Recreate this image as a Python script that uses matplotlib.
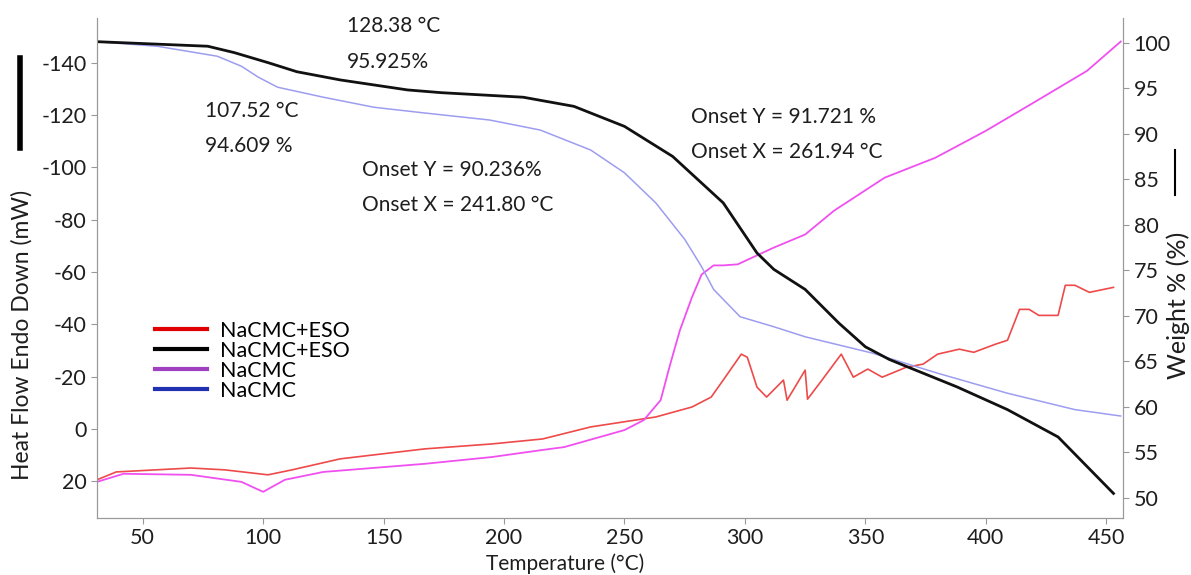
import numpy as np
import matplotlib.pyplot as plt
from matplotlib.lines import Line2D

plt.rcParams['font.family'] = ['Lato', 'DejaVu Sans']
plt.rcParams['axes.unicode_minus'] = False

# TGA, NaCMC+ESO (чёрная, правая ось)
t_black = [31, 77, 88, 102, 114, 132, 160, 174, 208, 229, 250, 270, 291, 305, 312,
           325, 339, 350, 360, 374, 388, 409, 430, 453]
w_black = [100.1, 99.6, 98.9, 97.8, 96.8, 95.9, 94.8, 94.5, 94.0, 93.0, 90.8, 87.5, 82.4, 76.9, 75.1,
           72.9, 69.2, 66.6, 65.2, 63.7, 62.2, 59.7, 56.7, 50.5]

# TGA, NaCMC (голубая, правая ось)
t_blue = [31, 56, 81, 91, 98, 106, 125, 146, 166, 194, 215, 236, 250, 263, 275, 282,
          287, 298, 312, 325, 353, 380, 409, 437, 456]
w_blue = [100.1, 99.6, 98.5, 97.4, 96.2, 95.1, 94.0, 92.9, 92.3, 91.5, 90.4, 88.2, 85.7, 82.4, 78.4, 75.4,
          72.9, 69.9, 68.8, 67.7, 65.9, 63.7, 61.5, 59.7, 59.0]

# DSC, NaCMC (розовая, левая ось)
t_mag = [31, 42, 70, 91, 100, 109, 125, 167, 195, 216, 225, 250, 258, 265, 269, 273,
         278, 282, 287, 291, 297, 312, 325, 337, 358, 379, 400, 421, 442, 456]
h_mag = [20.2, 17.1, 17.5, 20.2, 24.0, 19.4, 16.4, 13.3, 10.7, 8.0, 6.9, 0.4, -3.4, -11.0, -24.8, -37.7,
         -50.3, -59.0, -62.5, -62.5, -62.9, -69.3, -74.3, -83.4, -96.0, -103.6, -113.9, -125.3, -136.8, -148.0]

# DSC, NaCMC+ESO (красная, левая ось)
t_red = [31, 39, 70, 84, 102, 112, 132, 167, 195, 216, 236, 263, 278, 286, 291, 298.5,
         301, 305, 309, 316, 317.5, 325, 326, 332, 340, 345, 351, 357, 367, 374,
         380, 389, 395, 404, 409, 414, 418, 422, 430, 433, 437, 443, 453]
h_red = [19.4, 16.4, 14.9, 15.6, 17.5, 15.6, 11.4, 7.6, 5.7, 3.8, -0.8, -4.6, -8.4, -12.2, -18.7, -28.6,
         -27.4, -16.0, -12.2, -18.7, -11.0, -22.5, -11.4, -18.7, -28.6, -19.8, -22.9, -19.8, -23.6, -24.8,
         -28.6, -30.5, -29.3, -32.4, -33.9, -45.7, -45.7, -43.4, -43.4, -54.9, -54.9, -52.2, -54.1]

legend_labels = ['NaCMC+ESO', 'NaCMC+ESO', 'NaCMC', 'NaCMC']
legend_colors = ['#e00000', '#000000', '#a040c0', '#2030b0']

fig = plt.figure(figsize=(11.91, 5.75), dpi=100)
ax = fig.add_axes([0.0814, 0.0991, 0.8616, 0.8696])
ax2 = ax.twinx()

ax.plot(t_red, h_red, color='#ee4a4a', lw=1.2)
ax.plot(t_mag, h_mag, color='#f050f0', lw=1.3)
ax2.plot(t_blue, w_blue, color='#9d9df0', lw=1.1)
ax2.plot(t_black, w_black, color='#111111', lw=2.0)

ax.set_xlim(31, 457)
ax.set_ylim(34, -157)
ax2.set_ylim(47.8, 102.7)
ax.set_xticks(np.arange(50, 451, 50))
ax.set_yticks(np.arange(-140, 21, 20))
ax2.set_yticks(np.arange(50, 101, 5))

for a in (ax, ax2):
    a.spines['top'].set_visible(False)
    for s in ('left', 'right', 'bottom'):
        a.spines[s].set_color('#999999')
    a.tick_params(colors='#999999', labelcolor='#1e1e1e', labelsize=15.5, length=4, direction='out')

# подписи осей
fig.text(565 / 1191, 1 - 564 / 575, 'Temperature (°C)', ha='center', va='center', fontsize=15, color='#1e1e1e')
fig.text(22 / 1191, 1 - 335 / 575, 'Heat Flow Endo Down (mW)', ha='center', va='center',
         rotation=90, fontsize=16.5, color='#1e1e1e')
fig.text(1178 / 1191, 1 - 305 / 575, 'Weight % (%)', ha='center', va='center',
         rotation=90, fontsize=18, color='#1e1e1e')
fig.add_artist(Line2D([20 / 1191, 20 / 1191], [1 - 58 / 575, 1 - 148 / 575], color='black', lw=4))
fig.add_artist(Line2D([1175 / 1191, 1175 / 1191], [1 - 150 / 575, 1 - 195 / 575], color='black', lw=1.5))

# аннотации
notes = [(134.9, 101.8, '128.38 °C'), (134.9, 97.9, '95.925%'),
         (75.9, 92.5, '107.52 °C'), (75.9, 88.6, '94.609 %'),
         (141.2, 86.0, 'Onset Y = 90.236%'), (141.2, 82.2, 'Onset X = 241.80 °C'),
         (277.5, 91.8, 'Onset Y = 91.721 %'), (277.5, 88.0, 'Onset X = 261.94 °C')]
for x, y, s in notes:
    ax2.text(x, y, s, ha='left', va='center', fontsize=15, color='#1e1e1e')

handles = [Line2D([], [], color=c, lw=3) for c in legend_colors]
ax2.legend(handles, legend_labels, loc='center left', bbox_to_anchor=(0.038, 0.314), frameon=False,
           fontsize=15.5, handlelength=2.4, labelspacing=0.0, handletextpad=0.6)

fig.savefig('out.png', dpi=100)
